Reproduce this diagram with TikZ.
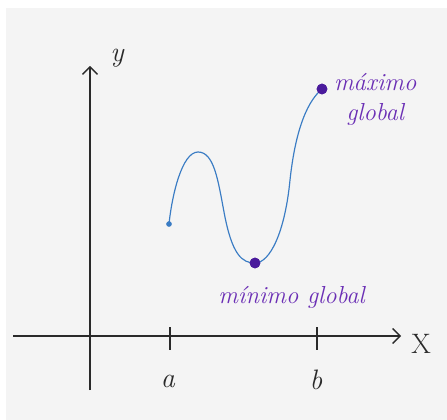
\documentclass[tikz,border=0pt]{standalone}
\usepackage{tikz}
\usepackage{xcolor}
\usetikzlibrary{arrows.meta,positioning}
\definecolor{PaperGray}{HTML}{F4F4F4}
\definecolor{AxisInk}{HTML}{2A2A2A}
\definecolor{CurveBlue}{HTML}{3A7CC4}
\definecolor{DotPurple}{HTML}{4A1A9C}
\definecolor{NotePurple}{HTML}{6B2FB5}
\tikzset{
  fxaxis/.style={AxisInk, line width=1.2pt, -{Straight Barb[length=2.2mm,width=4.5mm]}},
  fxtick/.style={AxisInk, line width=1.2pt},
  fxcurve/.style={CurveBlue, line width=1pt},
  fxdot/.style={circle, fill=DotPurple, inner sep=0pt, minimum size=3.2mm},
  fxsmalldot/.style={circle, fill=CurveBlue, inner sep=0pt, minimum size=1.6mm},
  fxaxlabel/.style={AxisInk, font=\fontsize{24}{28}\selectfont\itshape, inner sep=1pt},
  fxnote/.style={NotePurple, font=\fontsize{21}{26}\selectfont\itshape, align=center, inner sep=1pt}
}
\begin{document}
\begin{tikzpicture}[x=0.03cm, y=-0.03cm, node distance=3mm and 3mm]
  \useasboundingbox (0,0) rectangle (447,420);
  \fill[white] (0,0) rectangle (447,420);
  \fill[PaperGray] (6,8) rectangle (447,420);
  % axes
  \coordinate (xstart) at (13,336);
  \coordinate (xend) at (401,336);
  \coordinate (ystart) at (90,390);
  \coordinate (yend) at (90,66);
  \draw[fxaxis] (xstart) -- (xend);
  \draw[fxaxis] (ystart) -- (yend);
  \node[fxaxlabel, font=\fontsize{24}{28}\selectfont\upshape] (xlab) at (421,344) {X};
  \node[fxaxlabel] (ylab) at (117,58) {y};
  % ticks
  \coordinate (atop) at (170,327);
  \coordinate (abot) at (170,350);
  \coordinate (btop) at (317,327);
  \coordinate (bbot) at (317,350);
  \draw[fxtick] (atop) -- (abot);
  \draw[fxtick] (btop) -- (bbot);
  \node[fxaxlabel] (alab) at (168,381) {a};
  \node[fxaxlabel] (blab) at (316,380) {b};
  % the function
  \node[fxsmalldot] (start) at (169,224) {};
  \coordinate (peak) at (198,152);
  \coordinate (down) at (224,212);
  \node[fxdot] (min) at (255,263) {};
  \coordinate (up) at (290,180);
  \node[fxdot] (max) at (322,89) {};
  \draw[fxcurve] (start.center)
    .. controls (172,195) and (182,152) .. (peak)
    .. controls (214,152) and (218,180) .. (down)
    .. controls (232,255) and (242,263) .. (min.center)
    .. controls (270,263) and (285,232) .. (up)
    .. controls (296,125) and (309,100) .. (max.center);
  \node[fxdot] at (min) {};
  \node[fxdot] at (max) {};
  \node[fxsmalldot] at (start) {};
  % labels
  \node[fxnote, right=2mm of max.north east, anchor=north west, yshift=4mm] (maxlab) {máximo\\global};
  \node[fxnote, below=5mm of min, xshift=11mm] (minlab) {mínimo global};
\end{tikzpicture}
\end{document}
